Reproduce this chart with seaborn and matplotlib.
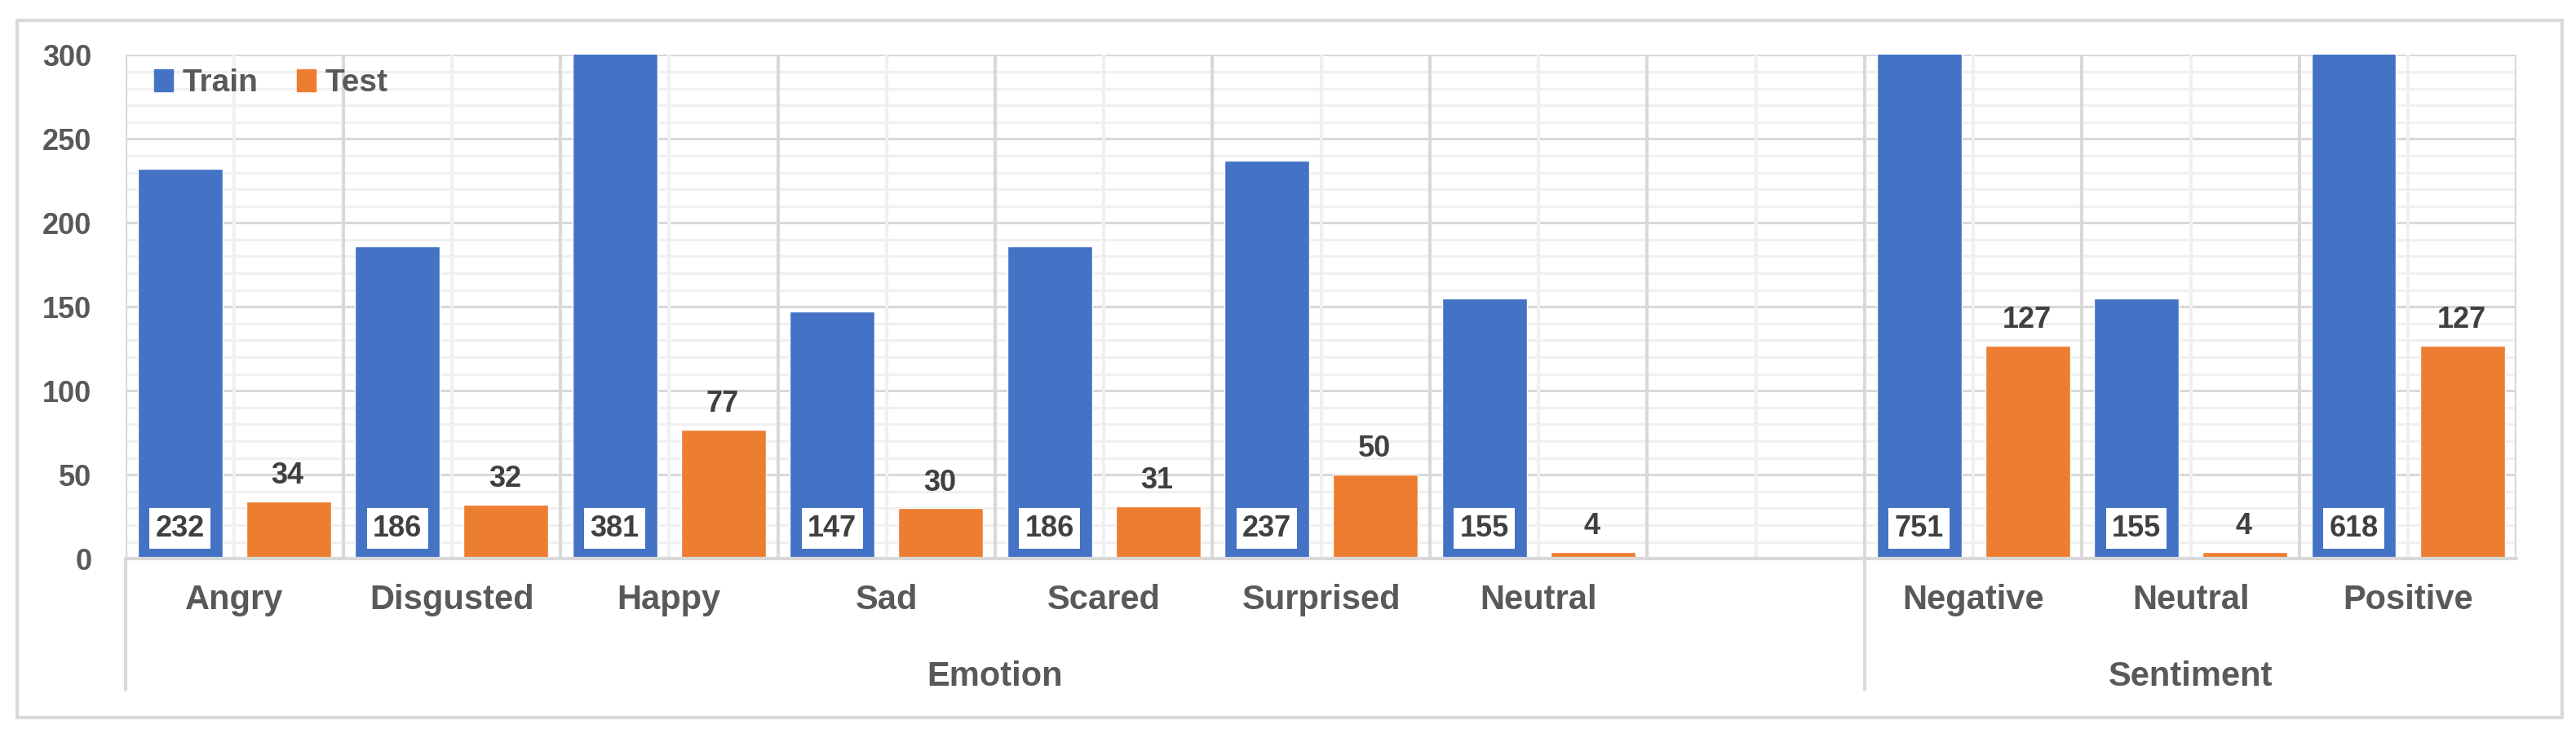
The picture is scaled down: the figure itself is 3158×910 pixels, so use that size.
import matplotlib
matplotlib.use("Agg")
import matplotlib.pyplot as plt
import matplotlib.patches as mpatches
import seaborn as sns
import pandas as pd

categories = ["Angry", "Disgusted", "Happy", "Sad", "Scared", "Surprised", "Neutral", "",
              "Negative", "Neutral", "Positive"]
train = [232, 186, 381, 147, 186, 237, 155, None, 751, 155, 618]
test = [34, 32, 77, 30, 31, 50, 4, None, 127, 4, 127]
groups = ["Emotion", "Sentiment"]
group_span = [(0, 8), (8, 11)]
yticks = [0, 50, 100, 150, 200, 250, 300]

rows = []
for i, (tr, te) in enumerate(zip(train, test)):
    if tr is not None:
        rows.append({"pos": i, "set": "Train", "count": tr})
        rows.append({"pos": i, "set": "Test", "count": te})
df = pd.DataFrame(rows)

sns.set_style("white")
plt.rcParams['font.family'] = ['Liberation Sans', 'DejaVu Sans']
plt.rcParams['font.weight'] = 'bold'
TXT = "#595959"

fig = plt.figure(figsize=(31.58, 9.10), dpi=100)
ax = fig.add_axes([0.0488, 0.247, 0.977 - 0.0488, 0.926 - 0.247])

# grid
for y in range(0, 301, 10):
    ax.axhline(y, color="#d9d9d9" if y % 50 == 0 else "#f0f0f0", lw=2.2, zorder=0)
for k in range(0, 23):
    x = -0.5 + k * 0.5
    ax.axvline(x, color="#d9d9d9" if k % 2 == 0 else "#f0f0f0", lw=3, zorder=0)

sns.barplot(data=df, x="pos", y="count", hue="set", order=list(range(11)),
            hue_order=["Train", "Test"], palette=["#4472C4", "#ED7D31"],
            width=1.0, gap=0.22, saturation=1, ax=ax, zorder=2, legend=False)

ax.set_ylim(0, 300)
ax.set_xlim(-0.5, 10.5)
ax.set_yticks(yticks)
ax.set_yticklabels([str(t) for t in yticks], fontsize=26, color=TXT, fontweight="bold")
ax.set_xticks(range(11))
ax.set_xticklabels(categories, fontsize=30, color=TXT, fontweight="bold")
ax.tick_params(axis="both", length=0, pad=22)
ax.tick_params(axis="y", pad=30)
for s in ax.spines.values():
    s.set_visible(False)
ax.set_xlabel("")
ax.set_ylabel("")

# labels
for i, (tr, te) in enumerate(zip(train, test)):
    if tr is None:
        continue
    ax.text(i - 0.25, 18, str(tr), ha="center", va="center", fontsize=26,
            color="#404040", fontweight="bold", zorder=4,
            bbox=dict(boxstyle="square,pad=0.2", fc="white", ec="none"))
    ax.annotate(str(te), (i + 0.245, min(te, 300)), xytext=(0, 10),
                textcoords="offset points", ha="center", va="bottom", fontsize=26,
                color="#404040", fontweight="bold", zorder=4)

# axis and group separators
tr_ = ax.get_xaxis_transform()
ax.plot([-0.5, 10.5], [0, 0], color="#d9d9d9", lw=3, transform=tr_, clip_on=False, zorder=3)
for x in [-0.5, 7.5]:
    ax.plot([x, x], [0, -0.26], color="#d9d9d9", lw=3, transform=tr_, clip_on=False)
for g, (a, b) in zip(groups, group_span):
    ax.text((a + b - 1) / 2, -0.235, g, ha="center", va="center", fontsize=30,
            color=TXT, fontweight="bold", transform=tr_)

# legend
h = [mpatches.Patch(color="#4472C4", label="Train"), mpatches.Patch(color="#ED7D31", label="Test")]
ax.legend(handles=h, loc="upper left", bbox_to_anchor=(0.0, 1.03), frameon=False,
          ncol=2, prop={"size": 28, "weight": "bold"}, labelcolor=TXT,
          handlelength=0.6, handleheight=0.7, handletextpad=0.3, columnspacing=1.2)

# outer border
fig.patches.append(mpatches.Rectangle((0.0065, 0.033), 0.988, 0.94, transform=fig.transFigure,
                                      fill=False, ec="#d9d9d9", lw=3))
fig.savefig("out.png", dpi=100)
